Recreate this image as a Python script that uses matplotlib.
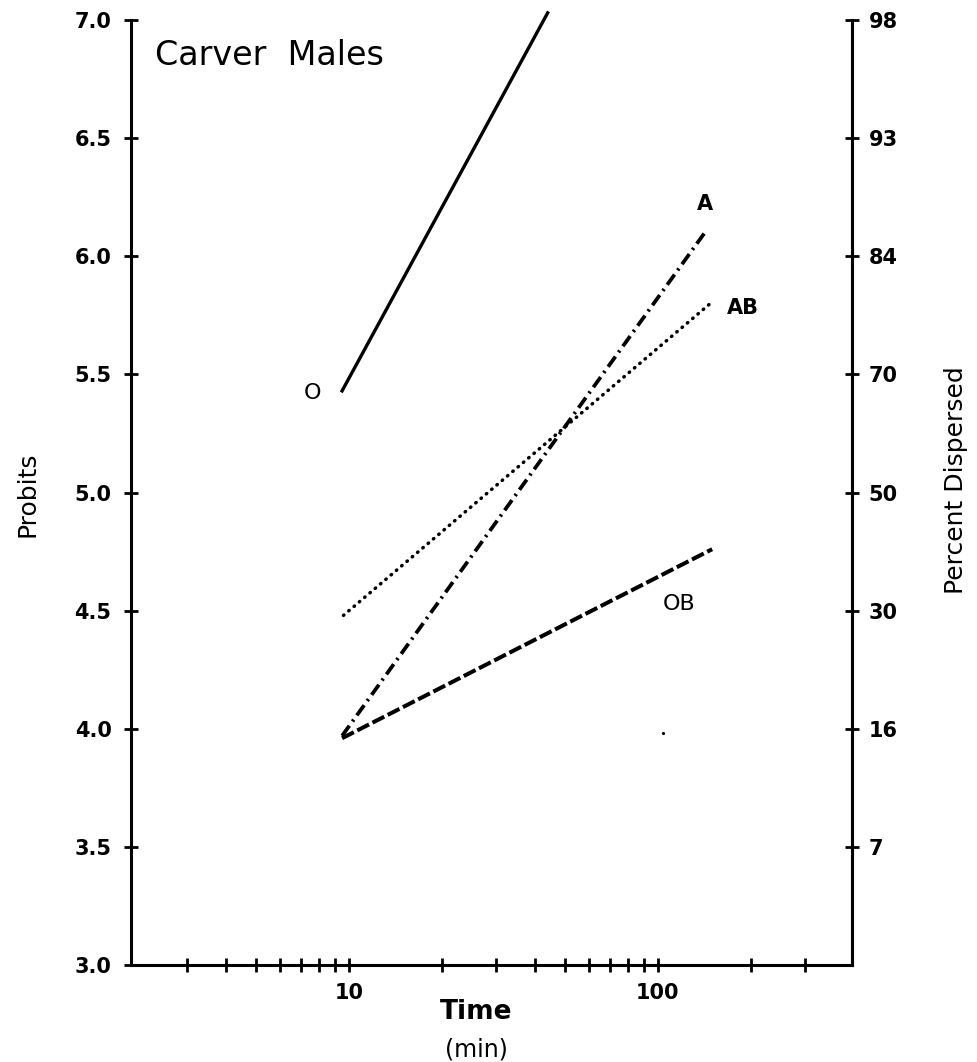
import matplotlib
matplotlib.use('Agg')
import matplotlib.pyplot as plt
from matplotlib.ticker import NullLocator

# Fitted probit lines (time in min, probits)
groups = ['O', 'A', 'AB', 'OB']
t_start = [9.5, 9.5, 9.6, 9.5]
t_end = [44, 142, 151, 150]
probit_start = [5.43, 3.97, 4.48, 3.96]
probit_end = [7.03, 6.10, 5.81, 4.76]

# Where each group name sits (time, probit)
label_time = [7.6, 142, 188, 117]
label_probit = [5.42, 6.22, 5.78, 4.53]

# Axis ticks
probit_ticks = [3.0, 3.5, 4.0, 4.5, 5.0, 5.5, 6.0, 6.5, 7.0]
percent_ticks = [3.5, 4.0, 4.5, 5.0, 5.5, 6.0, 6.5, 7.0]
percent_labels = ['7', '16', '30', '50', '70', '84', '93', '98']
time_ticks = [3, 4, 5, 6, 7, 8, 9, 10, 20, 30, 40, 50, 60, 70, 80, 90, 100, 200, 300]
time_labels = ['10' if t == 10 else '100' if t == 100 else '' for t in time_ticks]

plt.rcParams['font.family'] = 'DejaVu Sans'
plt.rcParams['lines.scale_dashes'] = False

# Line styles per group
styles = {
    'O': dict(linestyle='-', lw=2.4),
    'A': dict(dashes=(9, 3.8, 1.6, 3.8), lw=2.7),
    'AB': dict(dashes=(0.4, 4.6), lw=2.5, dash_capstyle='round'),
    'OB': dict(dashes=(9.5, 2.8), lw=2.9),
}

fig = plt.figure(figsize=(9.78, 10.62), dpi=100)
ax = fig.add_axes([0.134, 0.0913, 0.737, 0.8899])

for g, x0, x1, y0, y1 in zip(groups, t_start, t_end, probit_start, probit_end):
    ax.plot([x0, x1], [y0, y1], color='black', clip_on=False, **styles[g])

for g, lx, ly in zip(groups, label_time, label_probit):
    if g in ('A', 'AB'):
        ax.text(lx, ly, g, fontsize=15, fontweight='bold', ha='center', va='center')
    else:
        ax.text(lx, ly, g, fontsize=16, ha='center', va='center')

# small speck in the original scan
ax.plot([104], [3.98], marker='.', markersize=2.5, color='black')

ax.set_xscale('log')
ax.set_xlim(1.97, 425)
ax.set_ylim(3.0, 7.0)
ax.set_xticks(time_ticks)
ax.set_xticklabels(time_labels)
ax.xaxis.set_minor_locator(NullLocator())
ax.set_yticks(probit_ticks)
ax.set_yticklabels(['%.1f' % v for v in probit_ticks])

for s in ['left', 'bottom', 'right']:
    ax.spines[s].set_linewidth(2.2)
ax.spines['top'].set_visible(False)

ax.tick_params(axis='x', direction='inout', length=10, width=2, pad=8, labelsize=15)
ax.tick_params(axis='y', direction='inout', length=10, width=2, pad=9, labelsize=15)
for lbl in ax.get_yticklabels():
    lbl.set_fontweight('bold')
for lbl in ax.get_xticklabels():
    lbl.set_fontweight('bold')

ax2 = ax.twinx()
ax2.set_ylim(3.0, 7.0)
ax2.set_yticks(percent_ticks)
ax2.set_yticklabels(percent_labels)
ax2.spines['top'].set_visible(False)
ax2.spines['right'].set_linewidth(2.2)
ax2.tick_params(axis='y', direction='inout', length=10, width=2, pad=7, labelsize=15)
for lbl in ax2.get_yticklabels():
    lbl.set_fontweight('bold')

ax.text(0.033, 0.962, 'Carver  Males', transform=ax.transAxes, fontsize=24,
        ha='left', va='center')

fig.text(0.487, 1 - 1012 / 1062, 'Time', fontsize=19, fontweight='bold', ha='center', va='center')
fig.text(0.487, 1 - 1049 / 1062, '(min)', fontsize=17, ha='center', va='center')
fig.text(0.028, 1 - 494 / 1062, 'Probits', fontsize=18, rotation=90, ha='center', va='center')
fig.text(0.977, 1 - 480 / 1062, 'Percent Dispersed', fontsize=18, rotation=90,
         ha='center', va='center')

fig.savefig('out.png', dpi=100, facecolor='white')
